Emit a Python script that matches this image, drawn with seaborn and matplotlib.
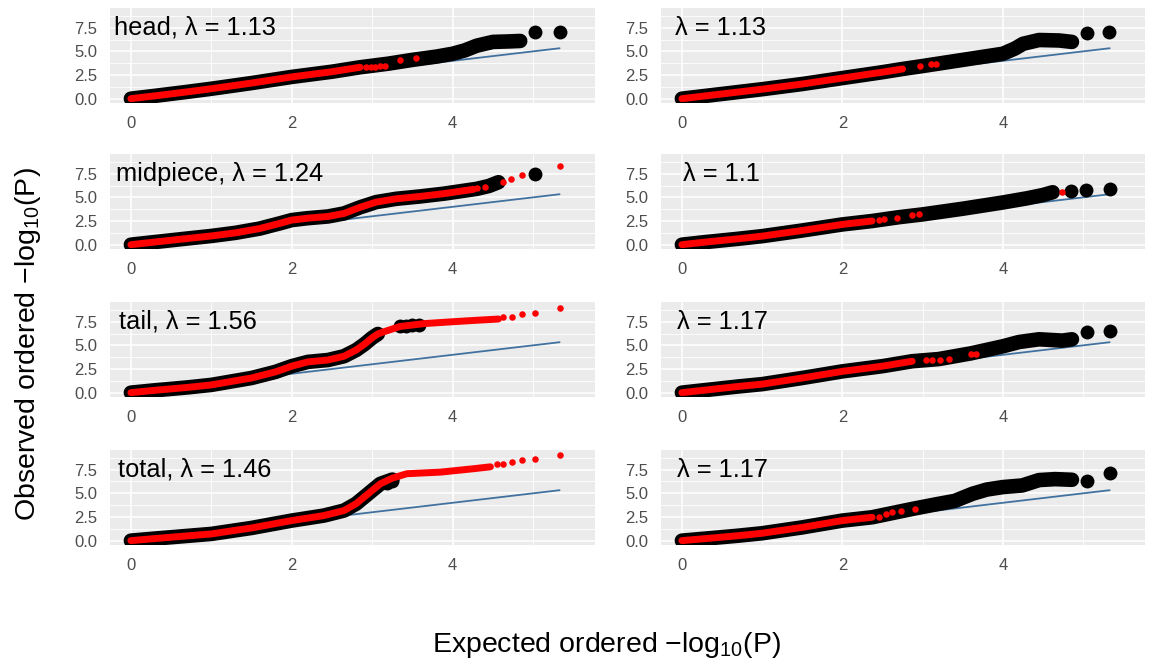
import matplotlib
matplotlib.use("Agg")
import matplotlib.pyplot as plt
import seaborn as sns

# ---------------- data ----------------
panel_labels = ["head, λ = 1.13", "midpiece, λ = 1.24", "tail, λ = 1.56", "total, λ = 1.46",
                "λ = 1.13", "λ = 1.1", "λ = 1.17", "λ = 1.17"]

diag_x = [0.0, 5.33]

# head
head_black_x = [0, 0.3, 0.7, 1.0, 1.5, 2.0, 2.5, 2.85, 3.2, 3.5, 3.8, 4.0, 4.15, 4.3, 4.5, 4.7, 4.84]
head_black_y = [0, 0.3, 0.72, 1.05, 1.65, 2.3, 2.85, 3.32, 3.7, 4.1, 4.45, 4.75, 5.1, 5.6, 6.0, 6.05, 6.1]
head_btail_x = [5.03, 5.33]
head_btail_y = [7.07, 7.07]
head_red_x = [0, 0.3, 0.7, 1.0, 1.5, 2.0, 2.5, 2.85]
head_red_y = [0, 0.3, 0.72, 1.05, 1.65, 2.3, 2.85, 3.32]
head_rtail_x = [2.92, 2.98, 3.04, 3.1, 3.16, 3.34, 3.54]
head_rtail_y = [3.33, 3.36, 3.4, 3.44, 3.48, 4.04, 4.32]

# midpiece
mid_black_x = [0, 0.3, 0.7, 1.0, 1.3, 1.6, 1.85, 2.0, 2.2, 2.45, 2.65, 2.85, 3.05, 3.3, 3.6, 3.9, 4.1, 4.3, 4.45, 4.57]
mid_black_y = [0, 0.28, 0.65, 0.92, 1.25, 1.7, 2.25, 2.6, 2.8, 2.98, 3.3, 3.95, 4.5, 4.85, 5.1, 5.4, 5.65, 5.9, 6.2, 6.6]
mid_btail_x = [5.03]
mid_btail_y = [7.5]
mid_red_x = [0, 0.3, 0.7, 1.0, 1.3, 1.6, 1.85, 2.0, 2.2, 2.45, 2.65, 2.85, 3.05, 3.3, 3.6, 3.9, 4.1, 4.26]
mid_red_y = [0, 0.28, 0.65, 0.92, 1.25, 1.7, 2.25, 2.6, 2.8, 2.98, 3.3, 3.95, 4.5, 4.85, 5.1, 5.4, 5.65, 5.85]
mid_rtail_x = [4.3, 4.4, 4.63, 4.73, 4.86, 5.33]
mid_rtail_y = [5.96, 6.07, 6.6, 6.9, 7.4, 8.32]

# tail
tail_black_x = [0, 0.3, 0.7, 1.0, 1.5, 1.8, 2.0, 2.2, 2.45, 2.65, 2.8, 2.9, 3.0, 3.07]
tail_black_y = [0, 0.25, 0.55, 0.82, 1.55, 2.2, 2.8, 3.25, 3.45, 3.85, 4.5, 5.1, 5.8, 6.2]
tail_btail_x = [3.35, 3.42, 3.5, 3.58]
tail_btail_y = [7.0, 7.05, 7.1, 7.15]
tail_red_x = [0, 0.3, 0.7, 1.0, 1.5, 1.8, 2.0, 2.2, 2.45, 2.65, 2.8, 2.9, 3.0, 3.07, 3.15, 3.35, 3.65, 4.05, 4.3, 4.57]
tail_red_y = [0, 0.25, 0.55, 0.82, 1.55, 2.2, 2.8, 3.25, 3.45, 3.85, 4.5, 5.1, 5.8, 6.2, 6.45, 7.0, 7.3, 7.52, 7.65, 7.78]
tail_rtail_x = [4.63, 4.74, 4.86, 5.03, 5.33]
tail_rtail_y = [7.96, 8.04, 8.32, 8.39, 8.96]

# total
tot_black_x = [0, 0.3, 0.7, 1.0, 1.5, 2.0, 2.4, 2.65, 2.8, 2.95, 3.1, 3.25]
tot_black_y = [0, 0.22, 0.5, 0.71, 1.34, 2.12, 2.65, 3.18, 3.9, 4.95, 6.0, 6.45]
tot_btail_x = [3.18, 3.25]
tot_btail_y = [6.1, 6.3]
tot_red_x = [0, 0.3, 0.7, 1.0, 1.5, 2.0, 2.4, 2.65, 2.8, 2.95, 3.1, 3.25, 3.43, 3.85, 4.26, 4.47]
tot_red_y = [0, 0.22, 0.5, 0.71, 1.34, 2.12, 2.65, 3.18, 3.9, 4.95, 6.0, 6.6, 7.07, 7.24, 7.6, 7.8]
tot_rtail_x = [4.55, 4.63, 4.74, 4.86, 5.03, 5.33]
tot_rtail_y = [8.05, 8.13, 8.3, 8.5, 8.66, 9.08]

# right column, row 1
r1_black_x = [0, 0.3, 0.7, 1.0, 1.5, 2.0, 2.5, 2.75, 3.0, 3.5, 4.0, 4.15, 4.25, 4.45, 4.7, 4.86]
r1_black_y = [0, 0.3, 0.7, 1.0, 1.55, 2.18, 2.8, 3.14, 3.45, 4.1, 4.75, 5.3, 5.8, 6.2, 6.15, 6.0]
r1_btail_x = [5.05, 5.32]
r1_btail_y = [6.9, 7.0]
r1_red_x = [0, 0.3, 0.7, 1.0, 1.5, 2.0, 2.5, 2.75]
r1_red_y = [0, 0.3, 0.7, 1.0, 1.55, 2.18, 2.8, 3.14]
r1_rtail_x = [2.97, 3.1, 3.16]
r1_rtail_y = [3.43, 3.68, 3.7]

# right column, row 2
r2_black_x = [0, 0.3, 0.7, 1.0, 1.5, 2.0, 2.37, 2.7, 3.0, 3.5, 4.0, 4.3, 4.5, 4.62]
r2_black_y = [0, 0.28, 0.62, 0.9, 1.5, 2.14, 2.5, 2.9, 3.2, 3.8, 4.46, 4.9, 5.25, 5.54]
r2_btail_x = [4.85, 5.04, 5.33]
r2_btail_y = [5.71, 5.82, 5.89]
r2_red_x = [0, 0.3, 0.7, 1.0, 1.5, 2.0, 2.37]
r2_red_y = [0, 0.28, 0.62, 0.9, 1.5, 2.14, 2.5]
r2_rtail_x = [2.46, 2.52, 2.68, 2.87, 2.95, 4.73]
r2_rtail_y = [2.61, 2.68, 2.86, 3.11, 3.21, 5.54]

# right column, row 3
r3_black_x = [0, 0.3, 0.7, 1.0, 1.5, 2.0, 2.5, 2.87, 3.2, 3.6, 4.0, 4.2, 4.45, 4.74, 4.86]
r3_black_y = [0, 0.28, 0.65, 0.9, 1.55, 2.25, 2.8, 3.32, 3.55, 4.15, 4.9, 5.35, 5.64, 5.5, 5.64]
r3_btail_x = [5.05, 5.33]
r3_btail_y = [6.36, 6.54]
r3_red_x = [0, 0.3, 0.7, 1.0, 1.5, 2.0, 2.5, 2.87]
r3_red_y = [0, 0.28, 0.65, 0.9, 1.55, 2.25, 2.8, 3.32]
r3_rtail_x = [3.04, 3.12, 3.22, 3.33, 3.6, 3.66]
r3_rtail_y = [3.43, 3.5, 3.5, 3.6, 4.04, 4.04]

# right column, row 4
r4_black_x = [0, 0.3, 0.7, 1.0, 1.5, 2.0, 2.37, 2.7, 2.9, 3.2, 3.4, 3.62, 3.8, 4.0, 4.24, 4.45, 4.65, 4.86]
r4_black_y = [0, 0.22, 0.52, 0.78, 1.4, 2.12, 2.47, 3.05, 3.4, 3.89, 4.2, 4.95, 5.4, 5.66, 5.83, 6.4, 6.5, 6.43]
r4_btail_x = [5.05, 5.33]
r4_btail_y = [6.29, 7.14]
r4_red_x = [0, 0.3, 0.7, 1.0, 1.5, 2.0, 2.37]
r4_red_y = [0, 0.22, 0.52, 0.78, 1.4, 2.12, 2.47]
r4_rtail_x = [2.46, 2.54, 2.62, 2.73, 2.91]
r4_rtail_y = [2.54, 2.83, 3.0, 3.1, 3.36]

x_ticks = [0, 2, 4]
x_tick_labels = ["0", "2", "4"]
y_ticks = [0, 2.5, 5.0, 7.5]
y_tick_labels = ["0.0", "2.5", "5.0", "7.5"]

panels = [
    (head_black_x, head_black_y, head_btail_x, head_btail_y, head_red_x, head_red_y, head_rtail_x, head_rtail_y),
    (mid_black_x, mid_black_y, mid_btail_x, mid_btail_y, mid_red_x, mid_red_y, mid_rtail_x, mid_rtail_y),
    (tail_black_x, tail_black_y, tail_btail_x, tail_btail_y, tail_red_x, tail_red_y, tail_rtail_x, tail_rtail_y),
    (tot_black_x, tot_black_y, tot_btail_x, tot_btail_y, tot_red_x, tot_red_y, tot_rtail_x, tot_rtail_y),
    (r1_black_x, r1_black_y, r1_btail_x, r1_btail_y, r1_red_x, r1_red_y, r1_rtail_x, r1_rtail_y),
    (r2_black_x, r2_black_y, r2_btail_x, r2_btail_y, r2_red_x, r2_red_y, r2_rtail_x, r2_rtail_y),
    (r3_black_x, r3_black_y, r3_btail_x, r3_btail_y, r3_red_x, r3_red_y, r3_rtail_x, r3_rtail_y),
    (r4_black_x, r4_black_y, r4_btail_x, r4_btail_y, r4_red_x, r4_red_y, r4_rtail_x, r4_rtail_y),
]

# ---------------- style ----------------
sns.set_theme(style="darkgrid")
plt.rcParams["font.family"] = ["Liberation Sans", "DejaVu Sans"]
plt.rcParams["mathtext.fontset"] = "custom"
plt.rcParams["mathtext.rm"] = "Liberation Sans"
plt.rcParams["mathtext.it"] = "Liberation Sans:italic"

BLUE = "#41729F"
PANEL_BG = "#EBEBEB"

fig = plt.figure(figsize=(11.54, 6.63), dpi=100)

col_left = [0.0953, 0.5728]
col_width = [0.4203, 0.4194]
row_bottom = [0.8446, 0.6244, 0.4012, 0.178]
row_h = 0.1433
label_x = [-0.21, -0.19, -0.15, -0.16, -0.09, 0.01, -0.06, -0.06]

for i, (bx, by, btx, bty, rx, ry, rtx, rty) in enumerate(panels):
    col, row = divmod(i, 4)
    ax = fig.add_axes([col_left[col], row_bottom[row], col_width[col], row_h])
    ax.set_facecolor(PANEL_BG)
    ax.set_axisbelow(True)
    for s in ax.spines.values():
        s.set_visible(False)

    sns.lineplot(x=diag_x, y=diag_x, color=BLUE, linewidth=1.3, ax=ax, zorder=2)
    sns.lineplot(x=bx, y=by, color="black", linewidth=10.5, sort=False, estimator=None,
                 solid_capstyle="round", solid_joinstyle="round", ax=ax, zorder=3)
    sns.scatterplot(x=btx, y=bty, color="black", s=100, linewidth=0, ax=ax, zorder=3)
    sns.lineplot(x=rx, y=ry, color="red", linewidth=5.0, sort=False, estimator=None,
                 solid_capstyle="round", solid_joinstyle="round", ax=ax, zorder=4)
    sns.scatterplot(x=rtx, y=rty, color="red", s=22, linewidth=0, ax=ax, zorder=4)

    ax.set_xlim(-0.26, 5.77)
    ax.set_ylim(-0.46, 9.58)
    ax.set_xticks(x_ticks)
    ax.set_xticklabels(x_tick_labels)
    ax.set_yticks(y_ticks)
    ax.set_yticklabels(y_tick_labels)
    ax.set_xticks([1, 3, 5], minor=True)
    ax.set_yticks([1.25, 3.75, 6.25, 8.75], minor=True)
    ax.grid(which="major", color="white", linewidth=1.1)
    ax.grid(which="minor", color="white", linewidth=0.6)
    ax.tick_params(which="major", length=3.5, width=1.0, color="#333333",
                   labelcolor="#4D4D4D", labelsize=12, pad=5.5)
    ax.tick_params(which="minor", length=0)
    ax.tick_params(axis="x", pad=6)
    ax.set_xlabel("")
    ax.set_ylabel("")

    ax.text(label_x[i], 7.5, panel_labels[i], ha="left", va="center",
            fontsize=18.3, color="black", zorder=5)

fig.text(0.526, 0.027, "Expected ordered $-$log$_{10}$(P)", ha="center", va="center",
         fontsize=20.5, color="black")
fig.text(0.0243, 0.481, "Observed ordered $-$log$_{10}$(P)", ha="center", va="center",
         rotation=90, fontsize=20.5, color="black")

fig.savefig("out.png", dpi=100)
